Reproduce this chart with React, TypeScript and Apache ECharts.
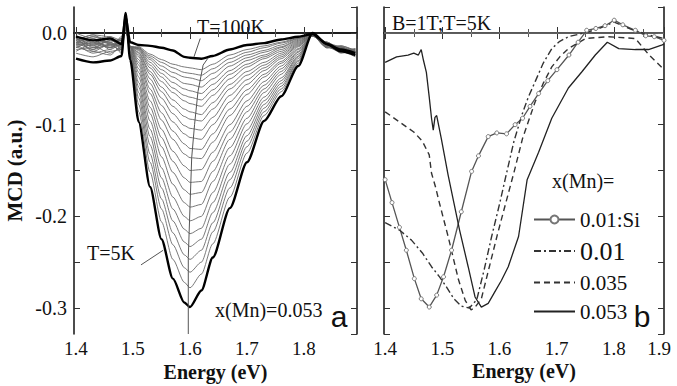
import React, { useEffect, useRef } from "react";
import * as echarts from "echarts";

// ---------- panel (a): MCD spectra, x(Mn)=0.053, T = 5 K ... 100 K ----------
const energyGrid = [1.4, 1.43, 1.46, 1.48, 1.487, 1.495, 1.51, 1.53, 1.55, 1.57, 1.59, 1.6, 1.62, 1.64, 1.67, 1.7, 1.73, 1.76, 1.79, 1.815, 1.84, 1.865, 1.89];

// one row per temperature, from 5 K (first) to 100 K (last)
const mcdByTemperature: number[][] = [
  [-0.028, -0.032, -0.030, -0.025, 0.022, -0.029, -0.097, -0.168, -0.225, -0.268, -0.294, -0.299, -0.281, -0.245, -0.191, -0.141, -0.096, -0.069, -0.036, 0.000, -0.012, -0.020, -0.024],
  [-0.022, -0.026, -0.020, -0.018, 0.015, -0.026, -0.086, -0.152, -0.206, -0.247, -0.272, -0.278, -0.263, -0.230, -0.179, -0.131, -0.090, -0.064, -0.033, -0.001, -0.014, -0.018, -0.022],
  [-0.015, -0.020, -0.024, -0.014, 0.012, -0.024, -0.078, -0.141, -0.192, -0.231, -0.256, -0.261, -0.250, -0.217, -0.169, -0.124, -0.086, -0.061, -0.031, -0.001, -0.010, -0.020, -0.020],
  [-0.010, -0.018, -0.012, -0.020, 0.010, -0.023, -0.071, -0.132, -0.181, -0.218, -0.242, -0.247, -0.237, -0.207, -0.160, -0.118, -0.082, -0.058, -0.030, -0.002, -0.016, -0.015, -0.025],
  [-0.020, -0.012, -0.016, -0.010, 0.008, -0.021, -0.065, -0.122, -0.169, -0.205, -0.228, -0.233, -0.225, -0.196, -0.152, -0.112, -0.078, -0.055, -0.028, -0.002, -0.012, -0.022, -0.018],
  [-0.008, -0.014, -0.022, -0.016, 0.014, -0.020, -0.059, -0.113, -0.158, -0.192, -0.214, -0.219, -0.213, -0.185, -0.143, -0.106, -0.074, -0.052, -0.026, -0.002, -0.014, -0.016, -0.024],
  [-0.016, -0.008, -0.010, -0.022, 0.006, -0.019, -0.054, -0.105, -0.147, -0.179, -0.200, -0.205, -0.200, -0.174, -0.134, -0.099, -0.070, -0.049, -0.025, -0.002, -0.010, -0.019, -0.021],
  [-0.012, -0.022, -0.018, -0.012, 0.010, -0.017, -0.048, -0.096, -0.135, -0.165, -0.185, -0.190, -0.187, -0.162, -0.125, -0.093, -0.065, -0.045, -0.023, -0.003, -0.016, -0.014, -0.020],
  [-0.006, -0.010, -0.014, -0.018, 0.004, -0.016, -0.043, -0.088, -0.124, -0.152, -0.171, -0.176, -0.174, -0.151, -0.116, -0.086, -0.061, -0.042, -0.021, -0.003, -0.012, -0.020, -0.026],
  [-0.018, -0.016, -0.008, -0.008, 0.012, -0.016, -0.039, -0.081, -0.114, -0.140, -0.158, -0.163, -0.162, -0.140, -0.108, -0.080, -0.057, -0.039, -0.020, -0.003, -0.014, -0.017, -0.019],
  [-0.004, -0.020, -0.012, -0.014, 0.008, -0.015, -0.035, -0.074, -0.105, -0.129, -0.145, -0.150, -0.149, -0.130, -0.100, -0.074, -0.053, -0.036, -0.018, -0.003, -0.011, -0.015, -0.023],
  [-0.014, -0.006, -0.018, -0.006, 0.005, -0.015, -0.032, -0.066, -0.095, -0.116, -0.132, -0.136, -0.137, -0.119, -0.090, -0.067, -0.048, -0.033, -0.017, -0.003, -0.015, -0.021, -0.017],
  [-0.010, -0.012, -0.006, -0.018, 0.010, -0.015, -0.029, -0.061, -0.087, -0.107, -0.121, -0.126, -0.127, -0.110, -0.083, -0.062, -0.045, -0.031, -0.015, -0.003, -0.012, -0.016, -0.022],
  [-0.002, -0.016, -0.014, -0.010, 0.007, -0.015, -0.026, -0.055, -0.079, -0.097, -0.110, -0.114, -0.116, -0.100, -0.075, -0.056, -0.041, -0.028, -0.014, -0.003, -0.016, -0.018, -0.020],
  [-0.012, -0.004, -0.010, -0.016, 0.012, -0.015, -0.024, -0.050, -0.071, -0.088, -0.101, -0.104, -0.106, -0.092, -0.068, -0.051, -0.038, -0.026, -0.013, -0.003, -0.010, -0.020, -0.018],
  [-0.006, -0.018, -0.004, -0.012, 0.006, -0.015, -0.022, -0.045, -0.064, -0.080, -0.091, -0.094, -0.096, -0.083, -0.061, -0.046, -0.035, -0.024, -0.012, -0.003, -0.013, -0.015, -0.024],
  [-0.016, -0.010, -0.016, -0.004, 0.009, -0.015, -0.021, -0.042, -0.059, -0.073, -0.083, -0.086, -0.089, -0.076, -0.056, -0.042, -0.032, -0.022, -0.011, -0.003, -0.015, -0.019, -0.020],
  [-0.008, -0.002, -0.012, -0.014, 0.004, -0.015, -0.019, -0.038, -0.053, -0.065, -0.074, -0.077, -0.080, -0.068, -0.050, -0.037, -0.028, -0.020, -0.010, -0.003, -0.011, -0.017, -0.022],
  [-0.012, -0.014, -0.008, -0.008, 0.011, -0.015, -0.018, -0.035, -0.048, -0.060, -0.068, -0.070, -0.073, -0.062, -0.045, -0.034, -0.026, -0.018, -0.009, -0.003, -0.014, -0.016, -0.018],
  [-0.004, -0.008, -0.016, -0.012, 0.006, -0.015, -0.017, -0.032, -0.044, -0.054, -0.061, -0.063, -0.066, -0.056, -0.041, -0.030, -0.024, -0.016, -0.008, -0.003, -0.012, -0.020, -0.021],
  [-0.010, -0.004, -0.006, -0.010, 0.008, -0.015, -0.017, -0.029, -0.040, -0.048, -0.055, -0.056, -0.059, -0.050, -0.036, -0.027, -0.021, -0.015, -0.007, -0.003, -0.016, -0.014, -0.019],
  [-0.006, -0.012, -0.010, -0.006, 0.005, -0.015, -0.016, -0.027, -0.036, -0.043, -0.048, -0.049, -0.052, -0.044, -0.032, -0.024, -0.019, -0.013, -0.006, -0.002, -0.010, -0.018, -0.023],
  [0.000, -0.006, -0.012, -0.012, 0.010, -0.015, -0.016, -0.025, -0.032, -0.038, -0.043, -0.044, -0.046, -0.039, -0.028, -0.021, -0.016, -0.011, -0.006, -0.002, -0.013, -0.017, -0.020],
  [-0.008, -0.002, -0.004, -0.008, 0.007, -0.015, -0.015, -0.023, -0.029, -0.034, -0.037, -0.038, -0.040, -0.034, -0.024, -0.018, -0.014, -0.010, -0.005, -0.002, -0.015, -0.020, -0.017],
  [-0.004, -0.008, -0.006, -0.012, 0.018, -0.010, -0.013, -0.014, -0.016, -0.019, -0.026, -0.027, -0.028, -0.025, -0.018, -0.013, -0.011, -0.007, -0.004, -0.001, -0.012, -0.018, -0.022],
];

// locus of the minima and the two label pointers (energy, MCD)
const minimaLocusE = [1.597, 1.597, 1.597, 1.6, 1.603, 1.608, 1.614, 1.623, 1.632];
const minimaLocusV = [-0.3284, -0.3, -0.245, -0.19, -0.136, -0.1, -0.064, -0.035, -0.027];
const pointer100KE = [1.618, 1.607];
const pointer100KV = [-0.006, -0.026];
const pointer5KE = [1.514, 1.553];
const pointer5KV = [-0.253, -0.237];

// ---------- panel (b): B=1T, T=5K, different x(Mn) ----------
const si001E = [1.4, 1.412, 1.425, 1.437, 1.451, 1.463, 1.477, 1.49, 1.502, 1.516, 1.533, 1.551, 1.563, 1.58, 1.595, 1.612, 1.627, 1.64, 1.653, 1.668, 1.684, 1.7, 1.721, 1.737, 1.752, 1.768, 1.784, 1.8, 1.815, 1.837, 1.855, 1.87, 1.887];
const si001V = [-0.16, -0.185, -0.212, -0.237, -0.268, -0.29, -0.299, -0.286, -0.266, -0.237, -0.195, -0.151, -0.134, -0.113, -0.109, -0.11, -0.1, -0.093, -0.08, -0.066, -0.052, -0.04, -0.024, -0.01, 0.003, 0.005, 0.008, 0.014, 0.009, 0.003, -0.003, -0.004, -0.008];

const mn001E = [1.4, 1.425, 1.446, 1.465, 1.481, 1.495, 1.507, 1.52, 1.533, 1.547, 1.56, 1.573, 1.586, 1.6, 1.612, 1.625, 1.639, 1.65, 1.662, 1.676, 1.691, 1.705, 1.72, 1.747, 1.77, 1.8, 1.83, 1.86, 1.887];
const mn001V = [-0.207, -0.215, -0.226, -0.24, -0.255, -0.266, -0.277, -0.29, -0.298, -0.3, -0.291, -0.258, -0.222, -0.186, -0.153, -0.118, -0.089, -0.07, -0.053, -0.033, -0.017, -0.009, -0.004, 0.0, 0.004, 0.012, 0.004, -0.002, -0.006];

const mn0035E = [1.4, 1.425, 1.45, 1.465, 1.477, 1.481, 1.488, 1.495, 1.51, 1.528, 1.54, 1.55, 1.556, 1.568, 1.582, 1.596, 1.61, 1.625, 1.64, 1.662, 1.676, 1.691, 1.705, 1.72, 1.75, 1.79, 1.837, 1.861, 1.884, 1.887];
const mn0035V = [-0.086, -0.097, -0.108, -0.118, -0.133, -0.153, -0.168, -0.186, -0.222, -0.269, -0.292, -0.302, -0.3, -0.29, -0.255, -0.22, -0.187, -0.152, -0.115, -0.075, -0.055, -0.037, -0.026, -0.017, -0.006, -0.004, -0.006, -0.024, -0.038, -0.04];

const mn0053E = [1.4, 1.42, 1.44, 1.45, 1.458, 1.463, 1.467, 1.472, 1.477, 1.481, 1.484, 1.487, 1.49, 1.498, 1.51, 1.52, 1.53, 1.545, 1.557, 1.568, 1.58, 1.591, 1.603, 1.615, 1.633, 1.648, 1.668, 1.691, 1.72, 1.744, 1.767, 1.788, 1.808, 1.837, 1.86, 1.884, 1.887];
const mn0053V = [-0.032, -0.026, -0.024, -0.022, -0.024, -0.018, -0.03, -0.043, -0.07, -0.093, -0.106, -0.092, -0.09, -0.115, -0.155, -0.185, -0.215, -0.255, -0.288, -0.299, -0.295, -0.283, -0.27, -0.255, -0.222, -0.16, -0.13, -0.093, -0.06, -0.042, -0.024, -0.01, -0.017, -0.018, -0.018, -0.013, -0.012];

const legendNames = ["0.01:Si", "0.01", "0.035", "0.053"];

const xTickLabels = (v: number) => v.toFixed(1);
const yTickLabels = (v: number) => (Math.abs(Math.round(v * 20)) % 2 === 0 ? v.toFixed(1) : "");

const FONT = "'Liberation Serif', 'Times New Roman', serif";
const Y_MIN = -0.3284;
const Y_MAX = 0.0284;

const zip = (xs: number[], ys: number[]) => xs.map((x, i) => [x, ys[i]]);

export default function App() {
  const ref = useRef<HTMLDivElement>(null);

  useEffect(() => {
    if (!ref.current) return;
    const chart = echarts.init(ref.current, undefined, { renderer: "svg" });

    const frameLine = { show: true, lineStyle: { color: "#111", width: 1.5 } };
    const innerTicks = { show: true, inside: true, length: 6, lineStyle: { color: "#333", width: 1 } };
    const minor = { show: true, splitNumber: 2, length: 4, lineStyle: { color: "#555", width: 1 } };

    const leftX = { min: 1.3965, max: 1.893, splitNumber: 5 };
    const rightX = { min: 1.398, max: 1.887, splitNumber: 5 };
    const yCommon = { type: "value", min: Y_MIN, max: Y_MAX, splitNumber: 7, splitLine: { show: false } };
    const tickFont = { fontFamily: FONT, fontSize: 19, color: "#111", lineHeight: 16 };
    const nameFont = { fontFamily: FONT, fontSize: 20, fontWeight: "bold", color: "#111", lineHeight: 18 };

    const tempSeries = mcdByTemperature.map((row, i) => {
      const thick = i === 0 || i === mcdByTemperature.length - 1;
      return {
        type: "line",
        xAxisIndex: 0,
        yAxisIndex: 0,
        data: zip(energyGrid, row),
        showSymbol: false,
        symbol: "none",
        smooth: 0.25,
        smoothMonotone: "x",
        z: thick ? 5 : 3,
        lineStyle: { color: thick ? "#000" : "#6a6a6a", width: thick ? 2.4 : 0.9 },
      };
    });

    const option: any = {
      animation: false,
      backgroundColor: "#fff",
      textStyle: { fontFamily: FONT },
      grid: [
        { left: 74, top: 7, width: 283, height: 327, containLabel: false, outerBoundsMode: "none" },
        { left: 384, top: 7, width: 280, height: 327, containLabel: false, outerBoundsMode: "none" },
        { left: 384, top: 7, width: 287, height: 327, containLabel: false, outerBoundsMode: "none" },
      ],
      xAxis: [
        {
          type: "value", gridIndex: 0, position: "bottom", ...leftX,
          axisLine: frameLine, axisTick: innerTicks, minorTick: minor, splitLine: { show: false },
          axisLabel: { ...tickFont, margin: 6, showMinLabel: false, showMaxLabel: false, formatter: xTickLabels },
          name: "Energy (eV)", nameLocation: "middle", nameGap: 28, nameTextStyle: nameFont,
        },
        {
          type: "value", gridIndex: 0, position: "top", ...leftX,
          axisLine: frameLine, axisTick: innerTicks, minorTick: minor, splitLine: { show: false }, axisLabel: { show: false },
        },
        {
          type: "value", gridIndex: 1, position: "bottom", ...rightX,
          axisLine: frameLine, axisTick: innerTicks, minorTick: minor, splitLine: { show: false }, axisLabel: { show: false },
          name: "Energy (eV)", nameLocation: "middle", nameGap: 28, nameTextStyle: nameFont,
        },
        {
          type: "value", gridIndex: 1, position: "top", ...rightX,
          axisLine: frameLine, axisTick: innerTicks, minorTick: minor, splitLine: { show: false }, axisLabel: { show: false },
        },
        {
          type: "value", gridIndex: 2, position: "bottom", min: 1.398, max: 1.9, splitNumber: 5,
          axisLine: { show: false }, axisTick: { show: false }, splitLine: { show: false },
          axisLabel: { ...tickFont, margin: 6, showMinLabel: false, showMaxLabel: true, alignMaxLabel: "right", formatter: xTickLabels },
        },
      ],
      yAxis: [
        {
          ...yCommon, gridIndex: 0, position: "left",
          axisLine: frameLine, axisTick: innerTicks,
          axisLabel: { ...tickFont, fontSize: 20, margin: 7, showMinLabel: false, showMaxLabel: false, formatter: yTickLabels },
          name: "MCD (a.u.)", nameLocation: "middle", nameGap: 50, nameTextStyle: { ...nameFont, fontSize: 21 },
        },
        { ...yCommon, gridIndex: 0, position: "right", axisLine: frameLine, axisTick: innerTicks, axisLabel: { show: false } },
        { ...yCommon, gridIndex: 1, position: "left", axisLine: frameLine, axisTick: innerTicks, axisLabel: { show: false } },
        { ...yCommon, gridIndex: 1, position: "right", axisLine: frameLine, axisTick: innerTicks, axisLabel: { show: false } },
        { ...yCommon, gridIndex: 2, show: false },
      ],
      legend: {
        orient: "vertical",
        left: 533,
        top: 209,
        itemWidth: 41,
        itemHeight: 10,
        itemGap: 8,
        padding: 0,
        data: [
          { name: legendNames[0] },
          { name: legendNames[1], itemStyle: { opacity: 0 }, textStyle: { fontSize: 26 } },
          { name: legendNames[2], itemStyle: { opacity: 0 } },
          { name: legendNames[3], itemStyle: { opacity: 0 } },
        ],
        textStyle: { fontFamily: FONT, fontSize: 21, color: "#111" },
      },
      series: [
        ...tempSeries,
        {
          type: "line", xAxisIndex: 0, yAxisIndex: 0, data: zip(minimaLocusE, minimaLocusV),
          symbol: "none", z: 6, lineStyle: { color: "#555", width: 1 },
        },
        {
          type: "line", xAxisIndex: 0, yAxisIndex: 0, data: zip(pointer100KE, pointer100KV),
          symbol: "none", z: 6, lineStyle: { color: "#555", width: 1 },
        },
        {
          type: "line", xAxisIndex: 0, yAxisIndex: 0, data: zip(pointer5KE, pointer5KV),
          symbol: "none", z: 6, lineStyle: { color: "#555", width: 1 },
        },
        {
          name: "zero", type: "line", xAxisIndex: 2, yAxisIndex: 2, data: [[1.398, 0], [1.887, 0]],
          symbol: "none", z: 2, lineStyle: { color: "#9a9a9a", width: 1 },
        },
        {
          name: legendNames[0], type: "line", xAxisIndex: 2, yAxisIndex: 2, data: zip(si001E, si001V),
          symbol: "circle", symbolSize: 4, showAllSymbol: true, z: 4,
          itemStyle: { color: "#fff", borderColor: "#777", borderWidth: 1 },
          lineStyle: { color: "#555", width: 1.3 },
        },
        {
          name: legendNames[1], type: "line", xAxisIndex: 2, yAxisIndex: 2, data: zip(mn001E, mn001V),
          symbol: "none", z: 4, itemStyle: { color: "#333" },
          lineStyle: { color: "#333", width: 1.4, type: [7, 3, 2, 3] },
        },
        {
          name: legendNames[2], type: "line", xAxisIndex: 2, yAxisIndex: 2, data: zip(mn0035E, mn0035V),
          symbol: "none", z: 4, itemStyle: { color: "#333" },
          lineStyle: { color: "#333", width: 1.4, type: [6, 4] },
        },
        {
          name: legendNames[3], type: "line", xAxisIndex: 2, yAxisIndex: 2, data: zip(mn0053E, mn0053V),
          symbol: "none", z: 4, itemStyle: { color: "#222" },
          lineStyle: { color: "#222", width: 1.3 },
        },
      ],
      graphic: [
        { type: "text", x: 197, y: 27, style: { text: "T=100K", font: `20px ${FONT}`, fill: "#111", align: "left", verticalAlign: "middle" } },
        { type: "text", x: 87, y: 253, style: { text: "T=5K", font: `20px ${FONT}`, fill: "#111", align: "left", verticalAlign: "middle" } },
        { type: "text", x: 215, y: 310, style: { text: "x(Mn)=0.053", font: `20px ${FONT}`, fill: "#111", align: "left", verticalAlign: "middle" } },
        { type: "text", x: 339, y: 316, style: { text: "a", font: `30px 'Liberation Sans', sans-serif`, fill: "#111", align: "center", verticalAlign: "middle" } },
        { type: "text", x: 392, y: 23, style: { text: "B=1T;T=5K", font: `20px ${FONT}`, fill: "#111", align: "left", verticalAlign: "middle" } },
        { type: "text", x: 552, y: 181, style: { text: "x(Mn)=", font: `20px ${FONT}`, fill: "#111", align: "left", verticalAlign: "middle" } },
        { type: "text", x: 642, y: 316, style: { text: "b", font: `30px 'Liberation Sans', sans-serif`, fill: "#111", align: "center", verticalAlign: "middle" } },
      ],
    };

    chart.setOption(option);
    return () => chart.dispose();
  }, []);

  return <div ref={ref} style={{ position: "absolute", left: 0, top: 0, width: 677, height: 386 }} />;
}
